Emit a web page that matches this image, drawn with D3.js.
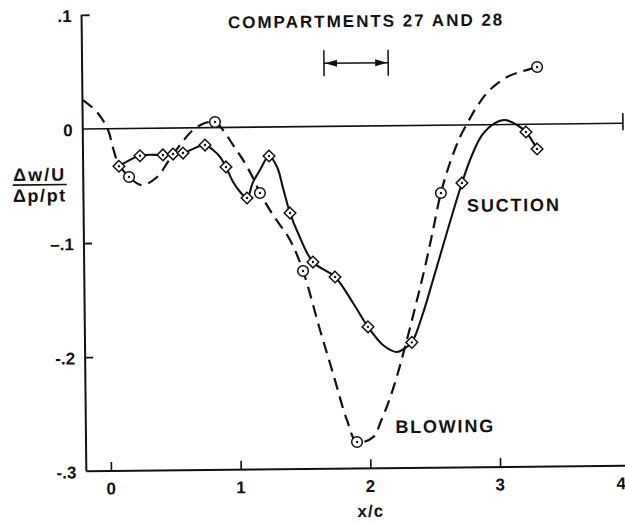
<!DOCTYPE html>
<html>
<head>
<meta charset="utf-8">
<script src="https://cdn.jsdelivr.net/npm/d3@7"></script>
<style>
  html, body { margin: 0; padding: 0; background: #fff; }
  svg { display: block; }
  text { font-family: "Liberation Sans", Arial, Helvetica, sans-serif; font-weight: bold; fill: #111; }
</style>
</head>
<body>
<svg id="chart" width="625" height="523"></svg>
<script>
// Measured stations (x/c) and normalized response, suction run (diamonds)
const suctionX = [0.086, 0.249, 0.426, 0.504, 0.581, 0.751, 0.911, 1.071, 1.244, 1.401, 1.574, 1.743, 1.993, 2.330, 2.729, 3.227, 3.311];
const suctionY = [-0.033, -0.024, -0.0235, -0.0228, -0.022, -0.0152, -0.0346, -0.062, -0.0254, -0.0755, -0.1187, -0.132, -0.176, -0.190, -0.0508, -0.0067, -0.0217];

// Measured stations, blowing run (circles)
const blowingX = [0.163, 0.830, 1.171, 1.497, 1.899, 2.566, 3.318];
const blowingY = [-0.0425, 0.0049, -0.0577, -0.1265, -0.2768, -0.0594, 0.0501];

// Faired curve through the suction data
const suctionFairX = [0.086, 0.249, 0.426, 0.504, 0.581, 0.751, 0.813, 0.866, 0.911, 0.965, 1.019, 1.071, 1.115, 1.173, 1.244, 1.305, 1.349, 1.401, 1.461, 1.574, 1.743, 1.880, 1.993, 2.107, 2.215, 2.277, 2.330, 2.419, 2.498, 2.729, 2.809, 2.889, 2.988, 3.066, 3.159, 3.227, 3.311];
const suctionFairY = [-0.033, -0.024, -0.0235, -0.0228, -0.022, -0.0152, -0.0196, -0.0257, -0.0346, -0.0478, -0.0567, -0.062, -0.049, -0.0376, -0.0254, -0.0351, -0.0535, -0.0755, -0.0931, -0.1187, -0.132, -0.155, -0.176, -0.192, -0.1983, -0.1949, -0.190, -0.1644, -0.1355, -0.0508, -0.0264, -0.0089, 0.0014, 0.0040, -0.0005, -0.0067, -0.0217];

// Faired curve through the blowing data
const blowingFairX = [-0.186, -0.079, 0.005, 0.042, 0.079, 0.163, 0.262, 0.379, 0.464, 0.558, 0.660, 0.753, 0.830, 0.891, 0.967, 1.043, 1.119, 1.171, 1.270, 1.399, 1.497, 1.623, 1.719, 1.823, 1.899, 2.024, 2.086, 2.157, 2.222, 2.277, 2.333, 2.389, 2.445, 2.499, 2.566, 2.638, 2.718, 2.781, 2.859, 2.951, 3.086, 3.209, 3.318];
const blowingFairY = [0.0253, 0.0147, -0.0011, -0.017, -0.030, -0.0425, -0.0497, -0.0428, -0.0297, -0.015, -0.0019, 0.0041, 0.0049, -0.0022, -0.0154, -0.0286, -0.0445, -0.0577, -0.0771, -0.0992, -0.1265, -0.1783, -0.2161, -0.2574, -0.2768, -0.2726, -0.2586, -0.2386, -0.2159, -0.194, -0.1704, -0.146, -0.1205, -0.0935, -0.0594, -0.0332, -0.0105, 0.0027, 0.0174, 0.0304, 0.0416, 0.0467, 0.0501];

// Axis ticks and labels
const yTickValues = [0.1, 0, -0.1, -0.2, -0.3];
const yTickLabels = [".1", "0", "\u2013.1", "-.2", "-.3"];
const xTickValues = [0, 1, 2, 3, 4];
const xTickLabels = ["0", "1", "2", "3", "4"];

// Streamwise extent of compartments 27 and 28 (x/c)
const compartmentSpan = [1.675, 2.17];

const xMin = -0.19, zeroLineEnd = 3.975;

const svg = d3.select("#chart");
const root = svg.append("g").attr("transform", "rotate(-0.6,355,300)");

const x = d3.scaleLinear().domain([0, 3]).range([109.2, 498.3]);
const y = d3.scaleLinear().domain([-0.3, 0.1]).range([468.5, 12]);
const x0 = x(xMin);
const ink = "#111";
const rightEdge = 624;

// Frame: left axis and bottom axis lines
root.append("line").attr("x1", x0).attr("x2", x0).attr("y1", y(0.1)).attr("y2", y(-0.3))
  .attr("stroke", ink).attr("stroke-width", 2);
root.append("line").attr("x1", x0).attr("x2", x(4.2)).attr("y1", y(-0.3)).attr("y2", y(-0.3))
  .attr("stroke", ink).attr("stroke-width", 2);

// Tick marks on the left axis (pointing into the plot)
const yAxis = root.append("g").attr("transform", `translate(${x0},0)`)
  .call(d3.axisRight(y).tickValues([0.1, -0.1, -0.2]).tickSize(8).tickFormat(""));
yAxis.select(".domain").remove();
yAxis.selectAll(".tick line").attr("stroke", ink).attr("stroke-width", 1.8);

// Tick marks on the bottom axis (pointing up)
const xAxis = root.append("g").attr("transform", `translate(0,${y(-0.3)})`)
  .call(d3.axisTop(x).tickValues([0, 1, 2, 3]).tickSize(9).tickFormat(""));
xAxis.select(".domain").remove();
xAxis.selectAll(".tick line").attr("stroke", ink).attr("stroke-width", 1.6);

// Zero reference line with end mark
root.append("line").attr("x1", x0).attr("x2", x(zeroLineEnd)).attr("y1", y(0)).attr("y2", y(0))
  .attr("stroke", ink).attr("stroke-width", 1.6);
root.append("line").attr("x1", x(zeroLineEnd)).attr("x2", x(zeroLineEnd))
  .attr("y1", y(0) - 10).attr("y2", y(0) + 7).attr("stroke", ink).attr("stroke-width", 1.6);

// Tick labels
root.selectAll("text.ylab").data(yTickValues).join("text")
  .attr("class", "ylab")
  .attr("x", x0 - 10)
  .attr("y", d => y(d) + 7)
  .attr("text-anchor", "end")
  .style("font-size", "17px")
  .text((d, i) => yTickLabels[i]);

// The last x label sits at the page edge, so it is kept inside the frame
root.selectAll("text.xlab").data(xTickValues).join("text")
  .attr("class", "xlab")
  .attr("x", d => Math.min(x(d), rightEdge))
  .attr("y", y(-0.3) + 23.5)
  .attr("text-anchor", d => x(d) > rightEdge - 5 ? "end" : "middle")
  .style("font-size", "17px")
  .text((d, i) => xTickLabels[i]);

// Axis titles
root.append("text").attr("x", x(2)).attr("y", 517).attr("text-anchor", "middle")
  .style("font-size", "17px").style("letter-spacing", "1px").text("x/c");

const yTitle = root.append("g").attr("transform", "translate(41,0)");
yTitle.append("text").attr("x", 0).attr("y", 177.5).attr("text-anchor", "middle")
  .style("font-size", "18px").style("letter-spacing", "2px").text("\u0394w/U");
yTitle.append("line").attr("x1", -27).attr("x2", 27).attr("y1", 181.5).attr("y2", 181.5)
  .attr("stroke", ink).attr("stroke-width", 1.6);
yTitle.append("text").attr("x", 0).attr("y", 198.5).attr("text-anchor", "middle")
  .style("font-size", "18px").style("letter-spacing", "1.6px").text("\u0394p/pt");

// Title and curve annotations
root.append("text").attr("x", 369).attr("y", 27).attr("text-anchor", "middle")
  .style("font-size", "17px").style("letter-spacing", "2px").text("COMPARTMENTS 27 AND 28");
root.append("text").attr("x", 468).attr("y", 213).style("font-size", "18px")
  .style("letter-spacing", "1.8px").text("SUCTION");
root.append("text").attr("x", 394).attr("y", 433.5).style("font-size", "18px")
  .style("letter-spacing", "1.8px").text("BLOWING");

// Compartment extent bracket with outward arrows
const bx1 = x(compartmentSpan[0]), bx2 = x(compartmentSpan[1]), by = 63;
const bracket = root.append("g").attr("stroke", ink).attr("stroke-width", 1.5);
bracket.append("line").attr("x1", bx1).attr("x2", bx1).attr("y1", by - 13).attr("y2", by + 13);
bracket.append("line").attr("x1", bx2).attr("x2", bx2).attr("y1", by - 13).attr("y2", by + 13);
bracket.append("line").attr("x1", bx1).attr("x2", bx2).attr("y1", by).attr("y2", by);
root.append("path").attr("fill", ink)
  .attr("d", `M${bx1 + 1},${by}L${bx1 + 13},${by - 3.5}L${bx1 + 13},${by + 3.5}Z`);
root.append("path").attr("fill", ink)
  .attr("d", `M${bx2 - 1},${by}L${bx2 - 13},${by - 3.5}L${bx2 - 13},${by + 3.5}Z`);

// Faired curves
const line = d3.line().x(d => x(d[0])).y(d => y(d[1])).curve(d3.curveCatmullRom.alpha(0.5));
const blowingFair = blowingFairX.map((v, i) => [v, blowingFairY[i]]);
const suctionFair = suctionFairX.map((v, i) => [v, suctionFairY[i]]);

root.append("path").datum(blowingFair).attr("d", line)
  .attr("fill", "none").attr("stroke", ink).attr("stroke-width", 2.2)
  .attr("stroke-dasharray", "12,7");
root.append("path").datum(suctionFair).attr("d", line)
  .attr("fill", "none").attr("stroke", ink).attr("stroke-width", 2.1);

// Data markers
const blowingPts = blowingX.map((v, i) => [v, blowingY[i]]);
const suctionPts = suctionX.map((v, i) => [v, suctionY[i]]);

const circ = root.append("g").selectAll("g").data(blowingPts).join("g")
  .attr("transform", d => `translate(${x(d[0])},${y(d[1])})`);
circ.append("circle").attr("r", 5.3).attr("fill", "#fff").attr("stroke", ink).attr("stroke-width", 1.5);
circ.append("circle").attr("r", 1.2).attr("fill", ink);

const diam = root.append("g").selectAll("g").data(suctionPts).join("g")
  .attr("transform", d => `translate(${x(d[0])},${y(d[1])})`);
diam.append("path").attr("d", "M0,-5.8L5.8,0L0,5.8L-5.8,0Z")
  .attr("fill", "#fff").attr("stroke", ink).attr("stroke-width", 1.5);
diam.append("circle").attr("r", 1.2).attr("fill", ink);
</script>
</body>
</html>
